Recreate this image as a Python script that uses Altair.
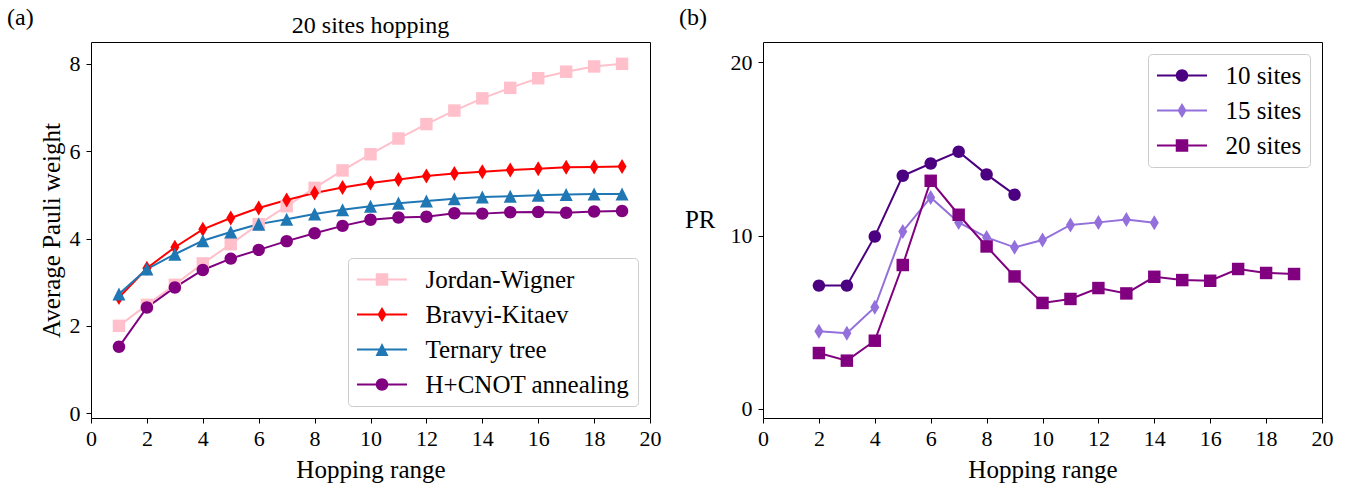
import altair as alt
import pandas as pd

# ---------------- data: panel (a) ----------------
hop_a = list(range(1, 20))
jordan_wigner = [2.00, 2.48, 2.94, 3.43, 3.87, 4.33, 4.74, 5.16, 5.56, 5.93,
                 6.29, 6.62, 6.93, 7.21, 7.45, 7.67, 7.82, 7.94, 8.00]
bravyi_kitaev = [2.65, 3.32, 3.80, 4.21, 4.47, 4.70, 4.88, 5.04, 5.17, 5.27,
                 5.35, 5.43, 5.49, 5.53, 5.57, 5.60, 5.63, 5.64, 5.65]
ternary_tree = [2.73, 3.30, 3.64, 3.95, 4.15, 4.33, 4.44, 4.56, 4.66, 4.74,
                4.81, 4.86, 4.91, 4.95, 4.97, 4.99, 5.01, 5.02, 5.02]
hcnot_annealing = [1.52, 2.42, 2.88, 3.28, 3.54, 3.74, 3.94, 4.12, 4.29, 4.43,
                   4.48, 4.50, 4.58, 4.57, 4.60, 4.61, 4.59, 4.62, 4.63]
names_a = ["Jordan-Wigner", "Bravyi-Kitaev", "Ternary tree", "H+CNOT annealing"]
colors_a = ["#ffc0cb", "#ff0000", "#1f77b4", "#800080"]

# ---------------- data: panel (b) ----------------
hop_10 = list(range(2, 10))
pr_10 = [7.12, 7.12, 9.96, 13.46, 14.17, 14.85, 13.54, 12.37]
hop_15 = list(range(2, 15))
pr_15 = [4.48, 4.37, 5.87, 10.25, 12.21, 10.77, 9.90, 9.33, 9.75, 10.62, 10.77, 10.94, 10.75]
hop_20 = list(range(2, 20))
pr_20 = [3.23, 2.79, 3.94, 8.31, 13.17, 11.21, 9.38, 7.65, 6.12, 6.35, 6.98, 6.67,
         7.63, 7.44, 7.40, 8.08, 7.85, 7.79]
names_b = ["10 sites", "15 sites", "20 sites"]
colors_b = ["#4b0082", "#9370db", "#800080"]

x_ticks = list(range(0, 21, 2))

# ---------------- marker shapes ----------------
P_SQUARE = "M-0.83,-0.83H0.83V0.83H-0.83Z"
P_DIAMOND = "M0,-1L0.6,0L0,1L-0.6,0Z"
P_TRIANGLE = "M0,-0.87L0.87,0.87L-0.87,0.87Z"
P_CIRCLE = "M0.83,0A0.83,0.83,0,1,1,-0.83,0A0.83,0.83,0,1,1,0.83,0Z"

LINE = "M-2,-0.08H2V0.08H-2Z "
L_SQUARE = LINE + "M-0.5,-0.5H0.5V0.5H-0.5Z"
L_DIAMOND = LINE + "M0,-0.6L0.36,0L0,0.6L-0.36,0Z"
L_TRIANGLE = LINE + "M0,-0.52L0.52,0.52L-0.52,0.52Z"
L_CIRCLE = LINE + "M0.5,0A0.5,0.5,0,1,1,-0.5,0A0.5,0.5,0,1,1,0.5,0Z"

FONT = "Liberation Serif"

df_a = pd.concat([
    pd.DataFrame({"x": hop_a, "y": vals, "s": name})
    for name, vals in zip(names_a, [jordan_wigner, bravyi_kitaev, ternary_tree, hcnot_annealing])
])
df_b = pd.concat([
    pd.DataFrame({"x": hx, "y": vals, "s": name})
    for name, hx, vals in zip(names_b, [hop_10, hop_15, hop_20], [pr_10, pr_15, pr_20])
])


def panel(df, names, colors, pshapes, lshapes, ydom, yaxis, letter, legend_orient, title=None):
    xenc = alt.X("x:Q", scale=alt.Scale(domain=[0, 20], nice=False, padding=0),
                 axis=alt.Axis(values=x_ticks, title="Hopping range", titlePadding=8,
                               labelPadding=5))
    yenc = alt.Y("y:Q", scale=alt.Scale(domain=ydom, nice=False, zero=False, padding=0),
                 axis=yaxis)
    cscale = alt.Scale(domain=names, range=colors)
    base = alt.Chart(df)
    lines = base.mark_line(strokeWidth=2).encode(
        x=xenc, y=yenc, color=alt.Color("s:N", scale=cscale, legend=None))
    pts = base.mark_point(filled=True, size=225, opacity=1, strokeWidth=0).encode(
        x=xenc, y=yenc,
        color=alt.Color("s:N", scale=cscale, legend=None),
        shape=alt.Shape("s:N", scale=alt.Scale(domain=names, range=pshapes), legend=None))
    leg = alt.Legend(title=None, orient=legend_orient, offset=12, labelFont=FONT,
                     labelFontSize=25, labelColor="black", symbolSize=625,
                     symbolOffset=12.5, labelOffset=30, padding=8, rowPadding=8,
                     fillColor="white", strokeColor="#cccccc", cornerRadius=4,
                     labelLimit=400)
    legend_layer = base.mark_point(filled=True, size=625, opacity=1, strokeWidth=0).encode(
        x=xenc, y=yenc,
        color=alt.Color("s:N", scale=cscale, legend=leg),
        shape=alt.Shape("s:N", scale=alt.Scale(domain=names, range=lshapes), legend=leg),
    ).transform_filter("false")
    texts = [letter]
    xs = [-84]
    ys = [-36]
    bls = ["top"]
    aligns = ["left"]
    if title is not None:
        texts.append(title)
        xs.append(279.5)
        ys.append(-9)
        bls.append("alphabetic")
        aligns.append("center")
    layers = [lines, pts, legend_layer]
    for t, xv, yv, bl, al in zip(texts, xs, ys, bls, aligns):
        layers.append(alt.Chart(pd.DataFrame({"t": [t]})).mark_text(
            font=FONT, fontSize=24, align=al, baseline=bl, color="black"
        ).encode(text="t:N", x=alt.value(xv), y=alt.value(yv)))
    layer = alt.layer(*layers).resolve_scale(color="independent", shape="independent")
    return layer.properties(width=559, height=376)


left = panel(
    df_a, names_a, colors_a,
    [P_SQUARE, P_DIAMOND, P_TRIANGLE, P_CIRCLE],
    [L_SQUARE, L_DIAMOND, L_TRIANGLE, L_CIRCLE],
    [-0.11, 8.5],
    alt.Axis(values=[0, 2, 4, 6, 8], title="Average Pauli weight", titleAngle=270,
             titleX=-40, titleY=188, titleAlign="center", titleBaseline="middle",
             labelPadding=6),
    "(a)", "bottom-right", title="20 sites hopping")

right = panel(
    df_b, names_b, colors_b,
    [P_CIRCLE, P_DIAMOND, P_SQUARE],
    [L_CIRCLE, L_DIAMOND, L_SQUARE],
    [-0.52, 21.18],
    alt.Axis(values=[0, 10, 20], title="PR", titleAngle=0, titleX=-48, titleY=177,
             titleAlign="right", titleBaseline="middle", labelPadding=6),
    "(b)", "top-right")

chart = alt.hconcat(left, right, spacing=113, bounds="flush").properties(
    padding={"left": 6, "top": 5, "right": 5, "bottom": 5}
).configure_view(stroke="black", strokeWidth=1).configure_axis(
    domain=False, grid=False, ticks=True, tickColor="black", tickSize=5, tickWidth=1,
    labelFont=FONT, labelFontSize=22, labelColor="black", labelFlush=False,
    titleFont=FONT, titleFontSize=25, titleFontWeight="normal", titleColor="black"
)

chart.save("out.html", embed_options={"renderer": "svg", "actions": False})
